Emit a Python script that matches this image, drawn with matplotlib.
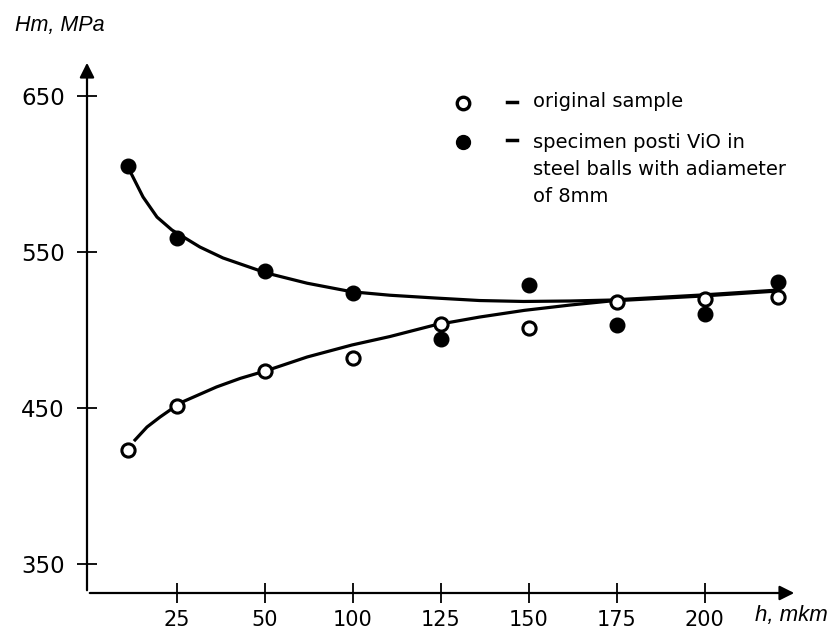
import matplotlib
matplotlib.use("Agg")
import matplotlib.pyplot as plt

# tick labels on the h axis (not evenly spaced in value, drawn at even steps)
h_labels = ['25', '50', '100', '125', '150', '175', '200']
h_ticks = [1, 2, 3, 4, 5, 6, 7]
hm_ticks = [350, 450, 550, 650]

# measured points (x as position along the h axis)
x_pts = [0.44, 1, 2, 3, 4, 5, 6, 7, 7.83]
hm_original = [423, 451, 474, 482, 504, 501, 518, 520, 521]
hm_vio = [605, 559, 538, 524, 494, 529, 503, 510, 531]

# trend curves
x_vio_curve = [0.477, 0.614, 0.773, 0.943, 1.261, 1.523, 2.02, 2.48, 2.99, 3.42,
               3.94, 4.44, 4.94, 5.47, 5.93, 6.98, 7.83]
curve_vio = [600.6, 585.3, 572.4, 564.1, 553.2, 546.2, 536.5, 530, 524.5, 522.3,
             520.5, 518.9, 518.3, 518.6, 519.2, 522.5, 525.6]
x_orig_curve = [0.523, 0.659, 0.807, 0.955, 1.034, 1.45, 1.72, 2.02, 2.48, 2.99,
                3.42, 3.93, 4.44, 4.95, 5.47, 5.93, 6.98, 7.83]
curve_original = [429.5, 437.8, 444.2, 450, 453.2, 463.5, 469, 474, 482.7, 490.4,
                  495.8, 503.2, 508.3, 512.6, 516, 518.6, 521.8, 525]

fig = plt.figure(figsize=(8.33, 6.32), dpi=100)
ax = fig.add_axes([87 / 833, 39 / 632, 710 / 833, 533 / 632])
ax.set_xlim(-0.023, 8.05)
ax.set_ylim(331.4, 673.1)

for s in ax.spines.values():
    s.set_visible(False)

# axes with arrows
ax.annotate('', xy=(1, 0), xytext=(0, 0), xycoords='axes fraction',
            arrowprops=dict(arrowstyle='-|>', lw=1.6, color='k', mutation_scale=22))
ax.annotate('', xy=(0, 1), xytext=(0, 0), xycoords='axes fraction',
            arrowprops=dict(arrowstyle='-|>', lw=1.6, color='k', mutation_scale=22))

# curves and points
ax.plot(x_vio_curve, curve_vio, color='k', lw=2.3, zorder=2, solid_joinstyle='round')
ax.plot(x_orig_curve, curve_original, color='k', lw=2.3, zorder=2, solid_joinstyle='round')
ax.plot(x_pts, hm_vio, 'o', color='k', ms=10.5, zorder=3)
ax.plot(x_pts, hm_original, 'o', mfc='white', mec='k', mew=2.2, ms=9.5, zorder=4)

ax.set_xticks(h_ticks)
ax.set_xticklabels(h_labels)
ax.set_yticks(hm_ticks)
ax.tick_params(axis='both', direction='inout', length=14, width=1.3, colors='k')
ax.tick_params(axis='x', pad=5, labelsize=15)
ax.tick_params(axis='y', pad=9, labelsize=16.5)

# axis captions
fig.text(15 / 833, 1 - 25 / 632, 'Hm, MPa', fontsize=15.5, style='italic',
         family='Liberation Sans', va='center', ha='left')
fig.text(828 / 833, 1 - 615 / 632, 'h, mkm', fontsize=16, style='italic',
         family='Liberation Sans', va='center', ha='right')

# legend drawn by hand
ax.plot([0.5296], [0.919], 'o', mfc='white', mec='k', mew=2.4, ms=9,
        transform=ax.transAxes, clip_on=False)
ax.plot([0.5296], [0.846], 'o', color='k', ms=10, transform=ax.transAxes, clip_on=False)
for yy in (0.922, 0.849):
    ax.plot([0.592, 0.606], [yy, yy], color='k', lw=2.5, transform=ax.transAxes)
legend_lines = [('original sample', 107), ('specimen posti ViO in', 148),
                ('steel balls with adiameter', 175), ('of 8mm', 202)]
for txt, yb in legend_lines:
    fig.text(533 / 833, 1 - yb / 632, txt, fontsize=14, va='baseline', ha='left')

fig.savefig('out.png', dpi=100)
